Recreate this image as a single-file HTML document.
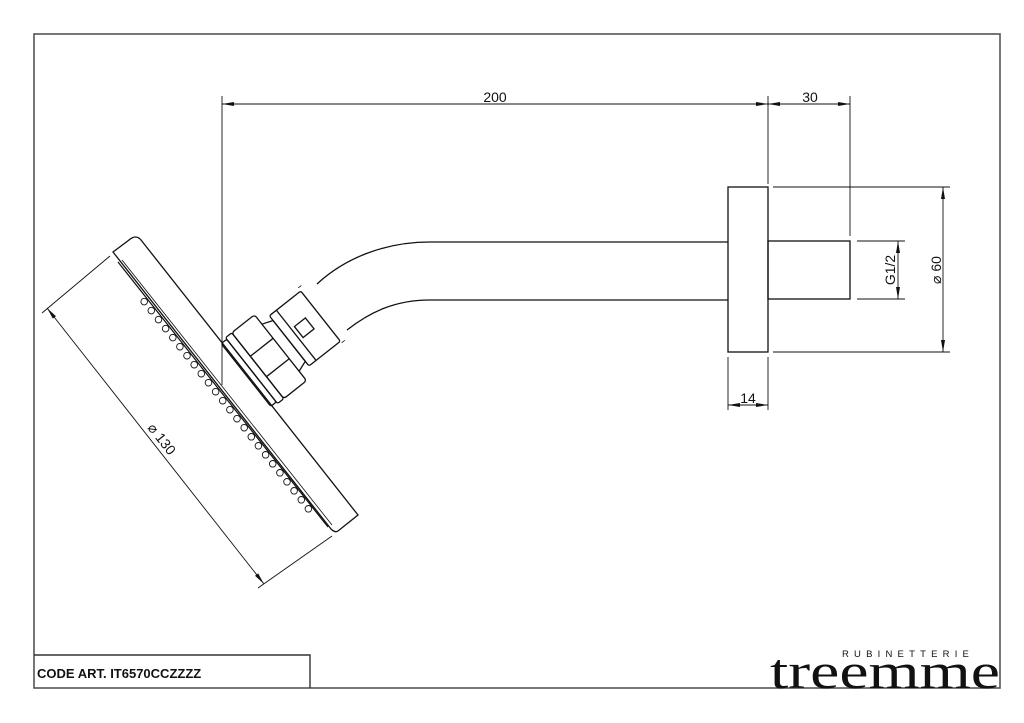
<!DOCTYPE html>
<html><head><meta charset="utf-8"><style>
html,body{margin:0;padding:0;background:#fff;}
svg{display:block}
text{font-family:"Liberation Sans",Arial,sans-serif;fill:#111}
</style></head><body>
<svg id="s" width="1024" height="723" viewBox="0 0 1024 723" xmlns="http://www.w3.org/2000/svg">
<defs>
<marker id="ae" markerWidth="12" markerHeight="6" refX="12" refY="3" orient="auto" markerUnits="userSpaceOnUse"><path d="M0,1 L12,3 L0,5 Z" fill="#111"/></marker>
<marker id="as" markerWidth="12" markerHeight="6" refX="0" refY="3" orient="auto" markerUnits="userSpaceOnUse"><path d="M12,1 L0,3 L12,5 Z" fill="#111"/></marker>
</defs>
<g fill="none" stroke="#222" stroke-width="1.4">
<rect x="34" y="34" width="966" height="654" stroke="#555" stroke-width="1.6"/>
<polyline points="34,655 310,655 310,688" stroke="#333"/>
</g>
<text x="37" y="678" font-size="13" font-weight="bold">CODE ART.  IT6570CCZZZZ</text>
<text x="842" y="657" font-size="9.5" letter-spacing="5.2" style="font-family:'Liberation Sans',sans-serif">RUBINETTERIE</text>
<text x="770" y="688" font-size="50" style="font-family:'Liberation Serif',serif" textLength="230" lengthAdjust="spacingAndGlyphs">treemme</text>

<g fill="none" stroke="#111" stroke-width="1.3">
<rect x="728" y="187" width="40" height="165"/>
<rect x="768" y="241" width="82" height="58"/>
<path d="M728,242 L430,242 C385,242 345,258 317,284"/>
<path d="M728,300 L430,300 C395,300 370,312 347,330"/>
<path d="M113,252 L129,240 Q136,234 141,240 L358,515 L338,531 Q335,533 331,529 Z"/>
<path d="M118,262 L328,527" stroke-width="1.2"/>
<path d="M122,260 L332,525" stroke-width="0.8"/>
<g id="bumps" stroke-width="0.9"></g>
<g transform="translate(246,375) rotate(51.7)">
<rect x="-40" y="-7" width="80" height="7" rx="2"/>
<rect x="-42" y="-15" width="84" height="8" rx="2"/>
<rect x="-42" y="-44" width="84" height="29" rx="3"/>
<line x1="-12" y1="-44" x2="-12" y2="-15"/>
<line x1="14" y1="-44" x2="14" y2="-15"/>
<path d="M-30,-44 L-26,-55 L26,-55 L30,-44"/>
<rect x="-32" y="-95" width="64" height="40" rx="2"/>
<line x1="-32" y1="-64" x2="32" y2="-64"/>
<rect x="-8" y="-82" width="14" height="14"/>
<path d="M-36,-95 l0,-4 M34,-95 l0,-4" stroke-width="0.8"/>
</g>
</g>

<g fill="none" stroke="#111" stroke-width="0.9">
<line x1="222" y1="96" x2="222" y2="385"/>
<line x1="768" y1="96" x2="768" y2="184"/>
<line x1="850" y1="96" x2="850" y2="236"/>
<line x1="222" y1="104" x2="768" y2="104" marker-start="url(#as)" marker-end="url(#ae)"/>
<line x1="768" y1="104" x2="850" y2="104" marker-start="url(#as)" marker-end="url(#ae)"/>
<line x1="773" y1="187" x2="950" y2="187"/>
<line x1="773" y1="352" x2="950" y2="352"/>
<line x1="943" y1="187" x2="943" y2="352" marker-start="url(#as)" marker-end="url(#ae)"/>
<line x1="857" y1="241" x2="905" y2="241"/>
<line x1="857" y1="299" x2="905" y2="299"/>
<line x1="898" y1="241" x2="898" y2="299" marker-start="url(#as)" marker-end="url(#ae)"/>
<line x1="728" y1="357" x2="728" y2="410"/>
<line x1="768" y1="357" x2="768" y2="410"/>
<line x1="728" y1="405" x2="768" y2="405" marker-start="url(#as)" marker-end="url(#ae)"/>
<line x1="42" y1="313" x2="110" y2="256"/>
<line x1="258" y1="588" x2="332" y2="536"/>
<line x1="47" y1="308" x2="264" y2="584" marker-start="url(#as)" marker-end="url(#ae)"/>
</g>
<text x="495" y="102" font-size="14" text-anchor="middle">200</text>
<text x="810" y="102" font-size="14" text-anchor="middle">30</text>
<text x="748" y="403" font-size="14" text-anchor="middle">14</text>
<text transform="translate(941,270) rotate(-90)" font-size="14" text-anchor="middle">⌀ 60</text>
<text transform="translate(895,270) rotate(-90)" font-size="14" text-anchor="middle">G1/2</text>
<text transform="translate(158,442) rotate(51.7)" font-size="14" text-anchor="middle">⌀ 130</text>
</svg>
<script>
var g=document.getElementById('bumps');
var ax=118,ay=262,bx=328,by=527;
for(var i=0;i<24;i++){var t=0.14+i*0.034;var x=ax+(bx-ax)*t-3.2,y=ay+(by-ay)*t+2.5;
var c=document.createElementNS('http://www.w3.org/2000/svg','circle');
c.setAttribute('cx',x.toFixed(1));c.setAttribute('cy',y.toFixed(1));c.setAttribute('r','3.3');g.appendChild(c);}
</script>
</body></html>
